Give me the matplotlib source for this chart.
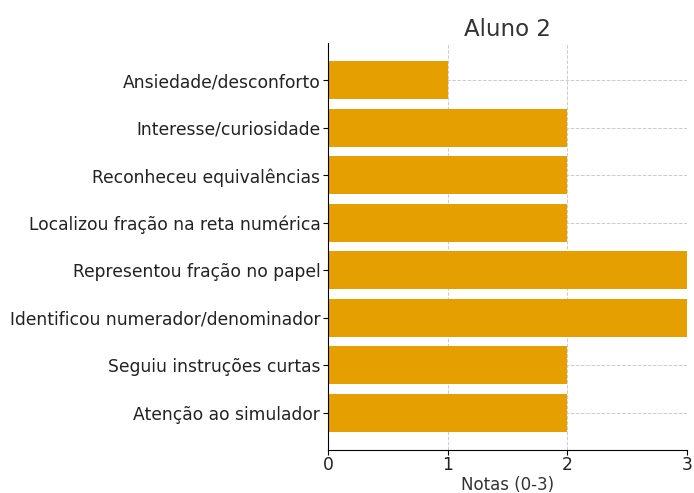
import matplotlib
matplotlib.use("Agg")
import matplotlib.pyplot as plt

# dados do Aluno 2
criterios = [
    'Atenção ao simulador',
    'Seguiu instruções curtas',
    'Identificou numerador/denominador',
    'Representou fração no papel',
    'Localizou fração na reta numérica',
    'Reconheceu equivalências',
    'Interesse/curiosidade',
    'Ansiedade/desconforto',
]
notas = [2, 2, 3, 3, 2, 2, 2, 1]

fig = plt.figure(figsize=(6.94, 4.93), dpi=100)
ax = fig.add_axes([0.4726, 0.0872, 0.5174, 0.8256])

ax.barh(criterios, notas, color='#E69F00', height=0.8, zorder=2)
ax.set_xlim(0, 3)
ax.set_xticks([0, 1, 2, 3])
ax.grid(True, linestyle='--', color='#cccccc', linewidth=0.7, zorder=0)

ax.set_title('Aluno 2', fontsize=16.5, color='#333333', pad=5)
ax.set_xlabel('Notas (0-3)', fontsize=12, color='#333333', labelpad=1)
ax.tick_params(axis='both', labelsize=12.3, labelcolor='#222222', pad=2)
ax.tick_params(axis='x', pad=1)
ax.spines['top'].set_visible(False)
ax.spines['right'].set_visible(False)

plt.savefig('out.png', dpi=100)
